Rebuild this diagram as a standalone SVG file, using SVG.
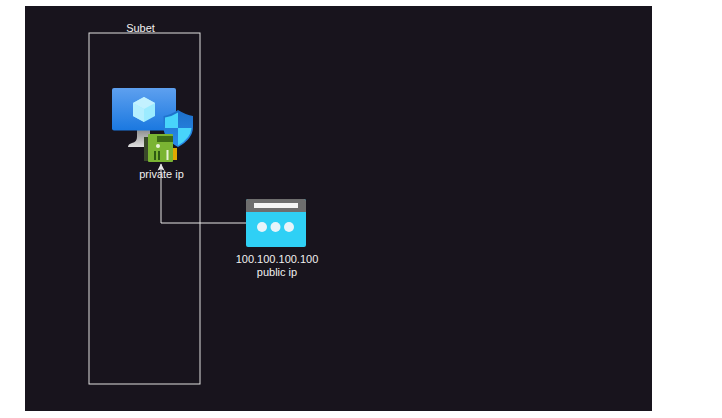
<svg xmlns="http://www.w3.org/2000/svg" width="722" height="418" viewBox="0 0 722 418">
<defs>
<style>
text{font-family:"Liberation Sans",Arial,sans-serif;font-size:11px;fill:#f0f0f0;text-anchor:middle}
.line{fill:none;stroke:#e6e6e6;stroke-width:1}
</style>
<linearGradient id="screen" x1="0" y1="0" x2="0" y2="1"><stop offset="0" stop-color="#5ea0ef"/><stop offset="1" stop-color="#1a78e0"/></linearGradient>
<linearGradient id="shield" x1="0" y1="0" x2="0" y2="1"><stop offset="0" stop-color="#1d6fc9"/><stop offset="1" stop-color="#2a8bea"/></linearGradient>
<linearGradient id="stand" x1="0" y1="0" x2="0" y2="1"><stop offset="0" stop-color="#8f8f8f"/><stop offset="1" stop-color="#e0e0e0"/></linearGradient>
<marker id="arrow" markerUnits="userSpaceOnUse" markerWidth="8" markerHeight="9" refX="3.5" refY="0.5" orient="0" overflow="visible"><path d="M3.5 0 L7 7 L3.5 5.8 L0 7 Z" fill="#e6e6e6"/></marker>
</defs>
<rect width="722" height="418" fill="#ffffff"/>
<rect x="25" y="6" width="627" height="405" fill="#18141d"/>
<g id="subnet">
<rect x="89" y="33" width="111" height="351" fill="none" stroke="#e0e0e0" stroke-width="1"/>
<text x="140.500" y="31.500">Subet</text>
</g>
<g id="vm">
<path d="M137 130h13v8l-2 9h-20q0-3 4-4 5-1 5-6z" fill="url(#stand)"/>
<rect x="112" y="88" width="64" height="42.500" rx="2" fill="url(#screen)"/>
<path d="M144 97l11 6v13l-11 6-11-6v-13z" fill="#9cebff"/>
<path d="M144 97l11 6-11 6-11-6z" fill="#c3f1ff"/>
<path d="M144 109v13l-11-6v-13z" fill="#b5efff"/>
<path d="M163.500 116q7-1 14.500-6 8 5 15 6v11q0 12-15 20-14.500-8-14.500-20z" fill="url(#shield)"/>
<path d="M178 112.500v15.500h-13v-10.500q7-1 13-5z" fill="#48d4fb"/>
<path d="M178 128h13.500q-.5 10-13.500 17.500z" fill="#48d4fb"/>
<rect x="144" y="137" width="4" height="24" fill="#3a4a2a"/>
<rect x="172" y="148" width="5" height="12" fill="#e0a800"/>
<rect x="148" y="134" width="25" height="28" rx="1" fill="#7ab433"/>
<rect x="157" y="136" width="16" height="6" fill="#3c6b16"/>
<circle cx="158" cy="146" r="2" fill="#e8f2d8"/>
<rect x="154" y="151" width="2" height="9" fill="#2e5a12"/>
<rect x="158" y="151" width="2" height="9" fill="#2e5a12"/>
<rect x="166.500" y="150" width="2" height="10" fill="#e8f2d8"/>
<text x="161.500" y="178">private ip</text>
</g>
<g id="public-ip">
<rect x="246" y="199" width="60" height="48" rx="2" fill="#2fd0f5"/>
<path d="M246 212v-11q0-2 2-2h56q2 0 2 2v11z" fill="#6e6e6e"/>
<rect x="254" y="203" width="44" height="5" fill="#f4f4f4"/>
<circle cx="262" cy="227" r="5" fill="#e8f4fa"/>
<circle cx="275.500" cy="227" r="5" fill="#e8f4fa"/>
<circle cx="289" cy="227" r="5" fill="#e8f4fa"/>
<text x="277" y="263">100.100.100.100</text>
<text x="277" y="276">public ip</text>
</g>
<g id="connectors">
<path class="line" d="M246 223H161V164" marker-end="url(#arrow)"/>
</g>
</svg>
